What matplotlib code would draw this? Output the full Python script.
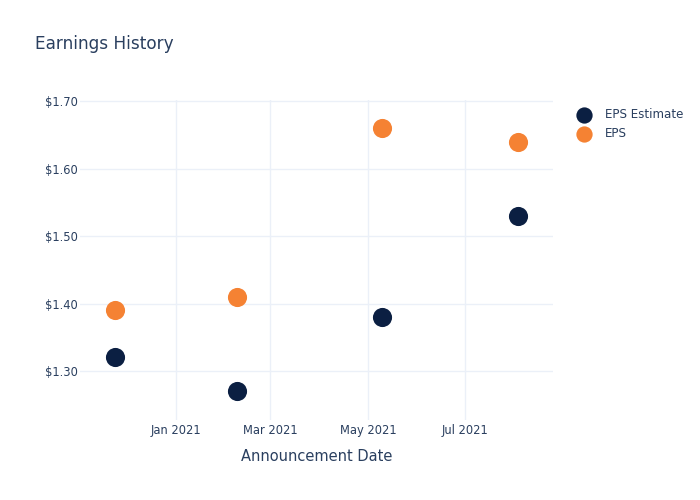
import matplotlib
matplotlib.use("Agg")
import matplotlib.pyplot as plt
import matplotlib.dates as mdates
from matplotlib.ticker import FuncFormatter
import numpy as np

dates = np.array(["2020-11-24", "2021-02-08", "2021-05-10", "2021-08-03"], dtype="datetime64[D]")
eps_estimate = [1.32, 1.27, 1.38, 1.53]
eps_actual = [1.39, 1.41, 1.66, 1.64]
y_ticks = [1.30, 1.40, 1.50, 1.60, 1.70]

text_color = "#2a3f5f"
grid_color = "#ebf0f8"
navy = "#0b1f42"
orange = "#f58233"

plt.rcParams['font.family'] = ['DejaVu Sans']
fig = plt.figure(figsize=(7, 5), dpi=100)
ax = fig.add_axes([80/700, 80/500, (553.3-80)/700, 320/500])

ax.scatter(dates, eps_estimate, s=190, color=navy, label="EPS Estimate", zorder=3, linewidths=0)
ax.scatter(dates, eps_actual, s=190, color=orange, label="EPS", zorder=3, linewidths=0)

ax.set_xlim(np.datetime64("2020-11-02"), np.datetime64("2021-08-25"))
ax.set_ylim(1.2274, 1.7015)
ax.set_yticks(y_ticks)
ax.yaxis.set_major_formatter(FuncFormatter(lambda v, p: f"${v:.2f}"))
ax.xaxis.set_major_locator(mdates.MonthLocator(bymonth=[1, 3, 5, 7]))
ax.xaxis.set_major_formatter(mdates.DateFormatter("%b %Y"))

ax.grid(True, color=grid_color, linewidth=1)
ax.set_axisbelow(True)
for s in ax.spines.values():
    s.set_visible(False)
ax.tick_params(length=0, labelsize=8.3, colors=text_color)
ax.tick_params(axis='y', pad=1.5)
ax.tick_params(axis='x', pad=3)
ax.set_xlabel("Announcement Date", fontsize=10.5, color=text_color, labelpad=8.5)

fig.text(35/700, 1 - 44/500, "Earnings History", fontsize=12.2, color=text_color, va="center", ha="left")

leg = fig.legend(loc="upper left", bbox_to_anchor=(561/700, 1 - 97/500), frameon=False,
                 fontsize=8.6, labelcolor=text_color, handletextpad=0.75, labelspacing=0.55,
                 markerscale=0.85)

fig.savefig("out.png", dpi=100)
